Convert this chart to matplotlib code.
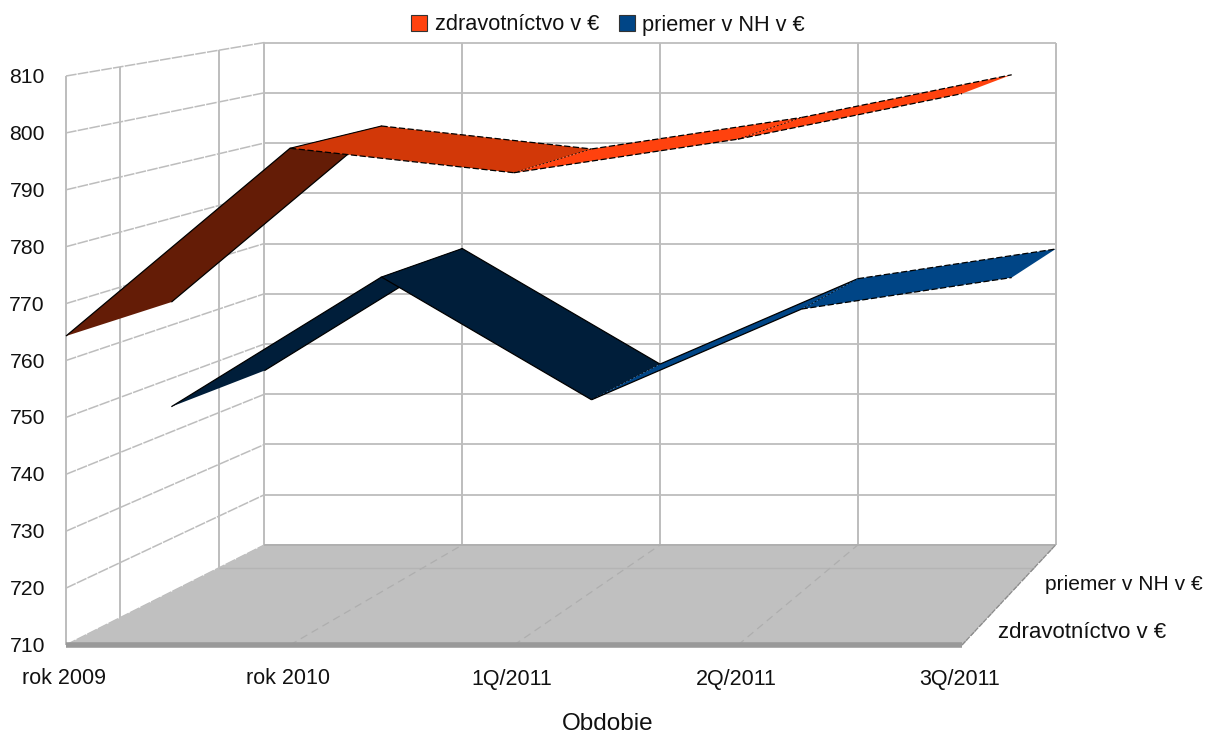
import matplotlib
matplotlib.use('Agg')
import matplotlib.pyplot as plt
from matplotlib.patches import Patch, Polygon

plt.rcParams['font.family'] = ['Liberation Sans', 'DejaVu Sans']

# data
categories = ['rok 2009', 'rok 2010', '1Q/2011', '2Q/2011', '3Q/2011']
series_names = ['zdravotníctvo v €', 'priemer v NH v €']
zdravotnictvo = [764.3, 797.3, 793.0, 798.9, 806.9]
priemer = [744.7, 769.0, 746.0, 763.0, 768.9]
value_ticks = [710, 720, 730, 740, 750, 760, 770, 780, 790, 800, 810]

# colours of each ribbon segment (shaded by slope, like the 3D chart)
zdrav_colors = ['#641c06', '#d23808', '#ff420e', '#ff420e']
priemer_colors = ['#001e3a', '#001e3a', '#004586', '#004586']
grid_color = '#bdbdbd'


# the chart is a perspective box: category, value, depth (0 front, 1 back)
def project(cat, val, depth):
    s = 1 / (1 + 0.1325 * depth)
    x0 = 66 + cat * 224
    y0 = 645 - (val - 710) * 5.69
    return 1762 + (x0 - 1762) * s, -210 + (y0 + 210) * s


def line3d(ax, a, b, **kw):
    p, q = project(*a), project(*b)
    ax.plot([p[0], q[0]], [p[1], q[1]], solid_capstyle='butt', **kw)


def edge(ax, p, q, zorder):
    # shallow edges come out broken in the original, steep ones look solid
    shallow = abs(q[1] - p[1]) < 0.3 * abs(q[0] - p[0])
    ax.plot([p[0], q[0]], [p[1], q[1]], color='black', lw=0.9, zorder=zorder,
            ls=(0, (5, 2)) if shallow else '-', dash_capstyle='butt', solid_capstyle='butt')


def ribbon(ax, values, colors, d0, d1, zorder):
    for i in range(len(values) - 1):
        pts = [project(i, values[i], d0), project(i, values[i], d1),
               project(i + 1, values[i + 1], d1), project(i + 1, values[i + 1], d0)]
        ax.add_patch(Polygon(pts, closed=True, fc=colors[i], ec='none', zorder=zorder + i))
        # the long edges, and the join with the previous segment
        edge(ax, pts[0], pts[3], zorder + i)
        edge(ax, pts[1], pts[2], zorder + i)
        if i > 0:
            ax.plot([pts[0][0], pts[1][0]], [pts[0][1], pts[1][1]], color='black',
                    lw=0.8 if i == 1 else 0.6, ls='-' if i == 1 else (0, (2, 2.5)), zorder=zorder + i)


fig = plt.figure(figsize=(12.07, 7.33), dpi=100)
ax = fig.add_axes([0, 0, 1, 1])
ax.set_xlim(0, 1207)
ax.set_ylim(733, 0)
ax.axis('off')

last = len(categories) - 1
top, bottom = value_ticks[-1], value_ticks[0]

# walls
for v in value_ticks:
    line3d(ax, (0, v, 1), (last, v, 1), color=grid_color, lw=1.3, zorder=1)
    line3d(ax, (0, v, 0), (0, v, 1), color=grid_color, lw=1.1, ls=(0, (7, 0.8)), zorder=1)
for i in range(len(categories)):
    line3d(ax, (i, bottom, 1), (i, top, 1), color=grid_color, lw=1.4, zorder=1)
for d in [0, 0.25, 0.75]:
    line3d(ax, (0, bottom, d), (0, top, d), color=grid_color, lw=1.4, zorder=1)

# floor
floor = [project(0, bottom, 0), project(0, bottom, 1), project(last, bottom, 1), project(last, bottom, 0)]
ax.add_patch(Polygon(floor, closed=True, fc='#c0c0c0', ec='none', zorder=2))
line3d(ax, (0, bottom, 0.75), (last, bottom, 0.75), color='#b4b4b4', lw=1.0, zorder=3)
line3d(ax, (0, bottom, 1), (last, bottom, 1), color='#b0b0b0', lw=1.4, zorder=3)
for i in range(1, len(categories)):
    line3d(ax, (i, bottom, 0), (i, bottom, 1), color='#aeaeae', lw=0.9, ls=(0, (6, 4)), zorder=3)
line3d(ax, (last, bottom, 0), (last, bottom, 1), color='#8c8c8c', lw=0.9, ls=(0, (4, 1)), zorder=3)
# front edge of the floor
ax.plot([project(0, bottom, 0)[0], project(last, bottom, 0)[0]], [645.3, 645.3],
        color='#999999', lw=4, solid_capstyle='butt', zorder=4)

# the series
ribbon(ax, priemer, priemer_colors, 0.5, 1, 5)
ribbon(ax, zdravotnictvo, zdrav_colors, 0, 0.5, 10)

# labels
for v in value_ticks:
    ax.text(45, project(0, v, 0)[1] + 1.5, str(v), ha='right', va='center', fontsize=15.2, color='#111111')
for i, c in enumerate(categories):
    ax.text(project(i, bottom, 0)[0] - 2, 679, c, ha='center', va='center', fontsize=15.5, color='#111111')
ax.text(998, 632, series_names[0], ha='left', va='center', fontsize=16, color='#111111')
ax.text(1045, 585, series_names[1], ha='left', va='center', fontsize=15.1, color='#111111')
ax.text(608, 724, 'Obdobie', ha='center', va='center', fontsize=17.5, color='#111111')

handles = [Patch(fc='#ff420e', ec='#333333', lw=0.8), Patch(fc='#004586', ec='#333333', lw=0.8)]
ax.legend(handles, series_names, ncol=2, loc='center', bbox_to_anchor=(608, 25),
          bbox_transform=ax.transData, frameon=False, fontsize=15.7,
          handlelength=0.75, handleheight=0.75, handletextpad=0.33, columnspacing=0.9,
          borderpad=0, labelcolor='#111111')

fig.savefig('out.png', dpi=100)
